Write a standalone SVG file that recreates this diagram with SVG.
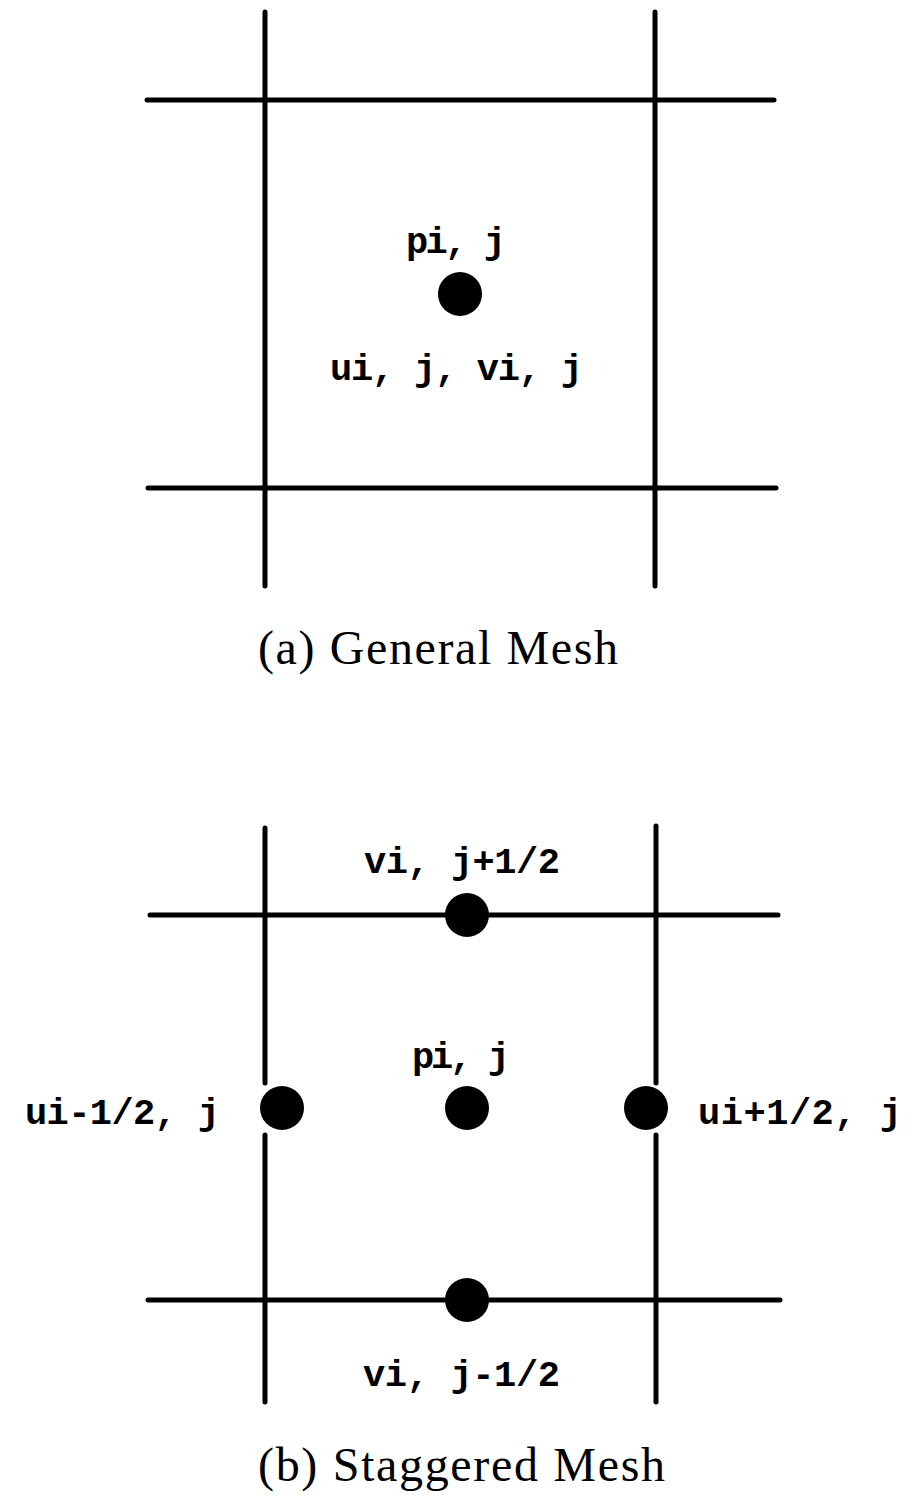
<svg xmlns="http://www.w3.org/2000/svg" width="916" height="1497" viewBox="0 0 916 1497">
<style>
.ln{stroke:#000;stroke-width:5;stroke-linecap:round;fill:none}
.dot{fill:#000}
.lb{font-family:"Liberation Mono",monospace;font-weight:bold;font-size:37px;fill:#000}
.cap{font-family:"Liberation Serif",serif;font-size:48px;fill:#000}
</style>
<rect width="916" height="1497" fill="#fff"/>
<g id="mesh-a">
<g id="grid-a">
<line class="ln" x1="265" y1="12" x2="265" y2="586"/>
<line class="ln" x1="655" y1="12" x2="655" y2="586"/>
<line class="ln" x1="147" y1="100" x2="774" y2="100"/>
<line class="ln" x1="148" y1="488" x2="776" y2="488"/>
</g>
<g id="node-a-center">
<circle class="dot" cx="460" cy="294" r="22"/>
<text class="lb" x="406" y="253" textLength="100" lengthAdjust="spacing">pi, j</text>
<text class="lb" x="330" y="380" textLength="253" lengthAdjust="spacing">ui, j, vi, j</text>
</g>
<text id="caption-a" class="cap" x="258" y="664" textLength="360" lengthAdjust="spacing">(a) General Mesh</text>
</g>
<g id="mesh-b">
<g id="grid-b">
<line class="ln" x1="265" y1="828" x2="265" y2="1083"/>
<line class="ln" x1="265" y1="1135" x2="265" y2="1402"/>
<line class="ln" x1="656" y1="826" x2="656" y2="1083"/>
<line class="ln" x1="656" y1="1135" x2="656" y2="1402"/>
<line class="ln" x1="150" y1="915" x2="778" y2="915"/>
<line class="ln" x1="148" y1="1300" x2="780" y2="1300"/>
</g>
<g id="node-v-top"><circle class="dot" cx="467" cy="915" r="22"/><text class="lb" x="364" y="873" textLength="196" lengthAdjust="spacing">vi, j+1/2</text></g>
<g id="node-p"><circle class="dot" cx="467" cy="1108" r="22"/><text class="lb" x="412" y="1068" textLength="98" lengthAdjust="spacing">pi, j</text></g>
<g id="node-u-left"><circle class="dot" cx="282" cy="1108" r="22"/><text class="lb" x="25" y="1124" textLength="195" lengthAdjust="spacing">ui-1/2, j</text></g>
<g id="node-u-right"><circle class="dot" cx="646" cy="1108" r="22"/><text class="lb" x="698" y="1124" textLength="204" lengthAdjust="spacing">ui+1/2, j</text></g>
<g id="node-v-bot"><circle class="dot" cx="467" cy="1300" r="22"/><text class="lb" x="363" y="1386" textLength="197" lengthAdjust="spacing">vi, j-1/2</text></g>
<text id="caption-b" class="cap" x="258" y="1481" textLength="407" lengthAdjust="spacing">(b) Staggered Mesh</text>
</g>
</svg>
